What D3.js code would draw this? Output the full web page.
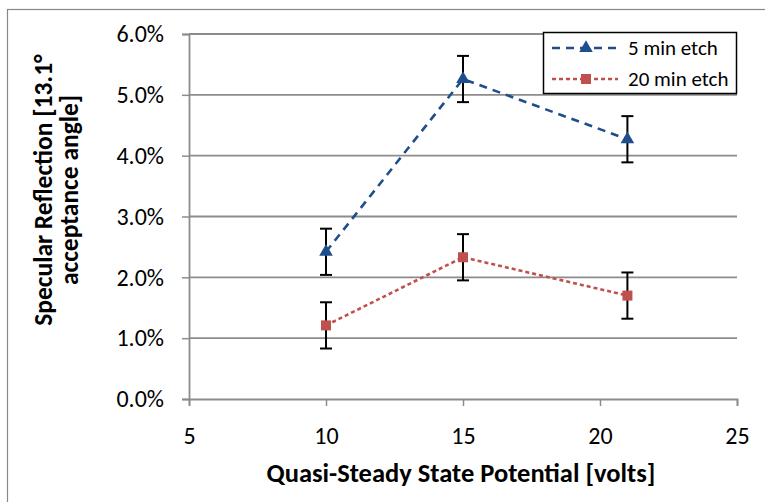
<!DOCTYPE html>
<html><head><meta charset="utf-8">
<script src="https://cdn.jsdelivr.net/npm/d3@7"></script>
<style>body{margin:0;background:#fff;}svg{display:block;font-family:Carlito,Calibri,Lato,"Open Sans",sans-serif;}
.tk text{font-size:24px;font-family:Carlito,Calibri,Lato,sans-serif;fill:#000;}</style>
</head><body><svg id="c" width="765" height="502"></svg>
<script>
const xValues = [10, 15, 21];
const etch5 = [2.42, 5.26, 4.27];
const etch5Err = [0.38, 0.38, 0.38];
const etch20 = [1.21, 2.33, 1.70];
const etch20Err = [0.38, 0.38, 0.38];
const seriesNames = ["5 min etch", "20 min etch"];
const xTicks = [5, 10, 15, 20, 25];
const yTicks = [0, 1, 2, 3, 4, 5, 6];

const svg = d3.select("#c");
const x = d3.scaleLinear().domain([5, 25]).range([189, 737]);
const y = d3.scaleLinear().domain([0, 6]).range([399, 34]);

// outer border
svg.append("rect").attr("x", 7.5).attr("y", 9.5).attr("width", 800).attr("height", 600)
  .attr("fill", "none").attr("stroke", "#888").attr("stroke-width", 1.2);

// gridlines
svg.append("g").selectAll("line").data(yTicks.filter(d => d > 0)).join("line")
  .attr("x1", x(5)).attr("x2", x(25)).attr("y1", d => y(d)).attr("y2", d => y(d))
  .attr("stroke", "#8c8c8c").attr("stroke-width", 1.8);

// y axis
const yAxis = svg.append("g").attr("class", "tk").attr("transform", `translate(${x(5)},0)`)
  .call(d3.axisLeft(y).tickValues(yTicks).tickSize(7).tickPadding(18).tickFormat(d => d.toFixed(1) + "%"));
yAxis.select(".domain").attr("stroke", "#8c8c8c").attr("stroke-width", 1.8);
yAxis.selectAll(".tick line").attr("stroke", "#8c8c8c").attr("stroke-width", 1.5);

// x axis
const xAxis = svg.append("g").attr("class", "tk").attr("transform", `translate(0,${y(0)})`)
  .call(d3.axisBottom(x).tickValues(xTicks).tickSize(7).tickPadding(21).tickFormat(d3.format("d")));
xAxis.select(".domain").attr("stroke", "#8c8c8c").attr("stroke-width", 1.8);
xAxis.selectAll(".tick line").attr("stroke", "#8c8c8c").attr("stroke-width", 1.5);

// axis titles
svg.append("text").attr("x", 461).attr("y", 482).attr("text-anchor", "middle")
  .attr("font-size", 26.5).attr("font-weight", "bold").text("Quasi-Steady State Potential [volts]");
const yt = svg.append("text").attr("transform", "translate(0,190) rotate(-90)")
  .attr("text-anchor", "middle").attr("font-size", 25.5).attr("font-weight", "bold");
yt.append("tspan").attr("x", 0).attr("y", 52).text("Specular Reflection [13.1°");
yt.append("tspan").attr("x", 0).attr("y", 78).text("acceptance angle]");

const blue = "#1f4e8c", red = "#c0504d";
const series = [
  {name: seriesNames[0], vals: etch5, err: etch5Err, color: blue, dash: "8,6", sym: d3.symbolTriangle},
  {name: seriesNames[1], vals: etch20, err: etch20Err, color: red, dash: "4,3", sym: d3.symbolSquare}
];
const line = d3.line().x(d => x(d[0])).y(d => y(d[1]));

series.forEach(s => {
  const pts = xValues.map((xv, i) => [xv, s.vals[i], s.err[i]]);
  svg.append("path").datum(pts).attr("d", line).attr("fill", "none")
    .attr("stroke", s.color).attr("stroke-width", 2.6).attr("stroke-dasharray", s.dash);
});
series.forEach(s => {
  const pts = xValues.map((xv, i) => [xv, s.vals[i], s.err[i]]);
  const g = svg.append("g");
  pts.forEach(p => {
    const cx = x(p[0]), t = y(p[1] + p[2]), b = y(p[1] - p[2]);
    g.append("line").attr("x1", cx).attr("x2", cx).attr("y1", t).attr("y2", b).attr("stroke", "#000").attr("stroke-width", 2);
    g.append("line").attr("x1", cx - 6).attr("x2", cx + 6).attr("y1", t).attr("y2", t).attr("stroke", "#000").attr("stroke-width", 2);
    g.append("line").attr("x1", cx - 6).attr("x2", cx + 6).attr("y1", b).attr("y2", b).attr("stroke", "#000").attr("stroke-width", 2);
  });
  g.selectAll("path").data(pts).join("path")
    .attr("d", d3.symbol().type(s.sym).size(s.sym === d3.symbolSquare ? 100 : 80))
    .attr("transform", d => `translate(${x(d[0])},${y(d[1])})`).attr("fill", s.color);
});

// legend
const lg = svg.append("g");
lg.append("rect").attr("x", 543.5).attr("y", 32.5).attr("width", 193).attr("height", 61)
  .attr("fill", "#fff").attr("stroke", "#000").attr("stroke-width", 1.5);
series.forEach((s, i) => {
  const ly = 48 + i * 31;
  lg.append("line").attr("x1", 552).attr("x2", 618).attr("y1", ly).attr("y2", ly)
    .attr("stroke", s.color).attr("stroke-width", 2.6).attr("stroke-dasharray", s.dash);
  lg.append("path").attr("d", d3.symbol().type(s.sym).size(s.sym === d3.symbolSquare ? 100 : 80))
    .attr("transform", `translate(586,${ly})`).attr("fill", s.color);
  lg.append("text").attr("x", 628).attr("y", ly + 7).attr("font-size", 21).text(s.name);
});
</script></body></html>
